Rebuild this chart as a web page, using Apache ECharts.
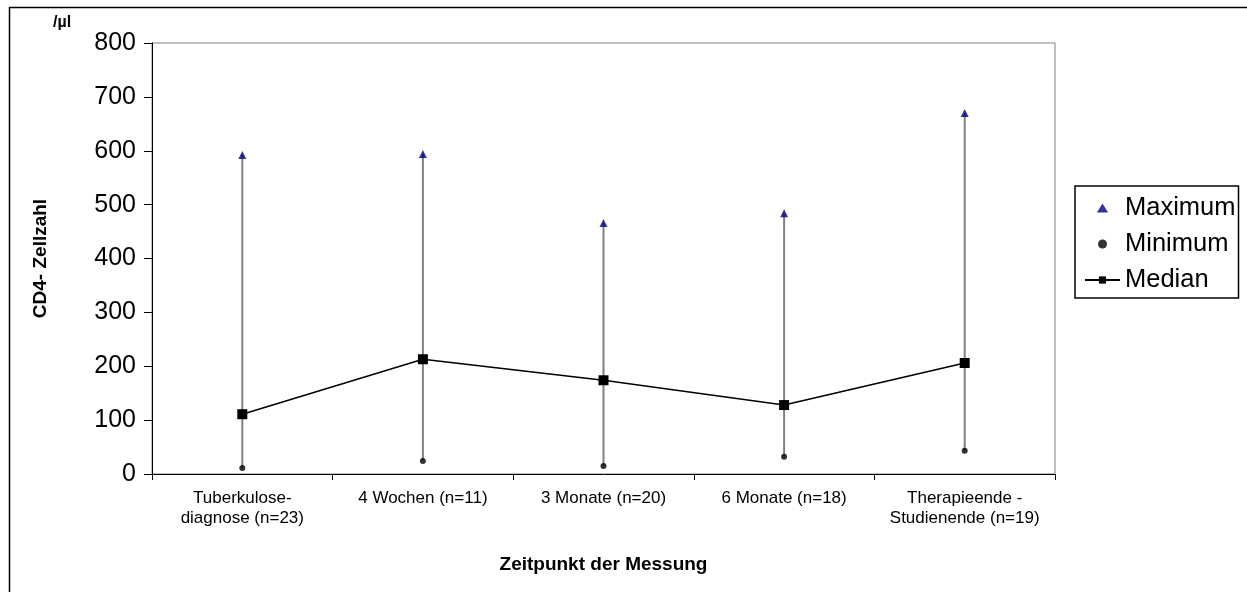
<!DOCTYPE html>
<html>
<head>
<meta charset="utf-8">
<script src="https://cdn.jsdelivr.net/npm/echarts@6/dist/echarts.min.js"></script>
<style>html,body{margin:0;padding:0;background:#fff}#c{width:1247px;height:592px}</style>
</head>
<body>
<div id="c"></div>
<script>
const categories = ['Tuberkulose-\ndiagnose (n=23)', '4 Wochen (n=11)', '3 Monate (n=20)', '6 Monate (n=18)', 'Therapieende -\nStudienende (n=19)'];
const maximum = [592, 594, 466, 484, 670];
const minimum = [11, 24, 15, 32, 43];
const median = [111, 213, 174, 128, 206];
const yTicks = { min: 0, max: 800, interval: 100 };

const FONT = 'Liberation Sans, Arial, sans-serif';
const chart = echarts.init(document.getElementById('c'));
const rangeData = categories.map((c, i) => [i, minimum[i], maximum[i]]);

chart.setOption({
  animation: false,
  backgroundColor: '#fff',
  textStyle: { fontFamily: FONT },
  graphic: [{
    type: 'rect', left: 7, top: 5, shape: { width: 1260, height: 620 },
    style: { fill: 'none', stroke: '#000', lineWidth: 1.5 }, silent: true
  }],
  title: {
    text: '/µl', left: 48, top: 10,
    textStyle: { fontFamily: FONT, fontSize: 16, fontWeight: 'bold', color: '#000' }
  },
  grid: { left: 152, top: 43, right: 192, bottom: 118, show: true, borderColor: '#808080', borderWidth: 1, backgroundColor: 'transparent' },
  legend: {
    orient: 'vertical', left: 1075, top: 186, width: 163,
    borderColor: '#000', borderWidth: 1.5, padding: [9, 3, 5, 9],
    itemWidth: 35, itemHeight: 9, itemGap: 10,
    textStyle: { fontFamily: FONT, fontSize: 25.5, color: '#000' },
    data: [
      { name: 'Maximum', icon: 'path://M5,0L10,8L0,8Z' },
      { name: 'Minimum', icon: 'path://M0,-1A1,1,0,1,1,0,1A1,1,0,1,1,0,-1Z' },
      { name: 'Median' }
    ]
  },
  xAxis: {
    type: 'category', data: categories, boundaryGap: true,
    name: 'Zeitpunkt der Messung', nameLocation: 'middle', nameGap: 81,
    nameTextStyle: { fontFamily: FONT, fontSize: 19, fontWeight: 'bold', color: '#000' },
    axisLine: { lineStyle: { color: '#000', width: 1 } },
    axisTick: { show: true, length: 6, lineStyle: { color: '#000' } },
    axisLabel: { fontFamily: FONT, fontSize: 17, color: '#000', margin: 14, lineHeight: 20, interval: 0 },
    splitLine: { show: false }
  },
  yAxis: {
    type: 'value', min: yTicks.min, max: yTicks.max, interval: yTicks.interval,
    name: 'CD4- Zellzahl', nameLocation: 'middle', nameGap: 102, nameRotate: 90,
    nameTextStyle: { fontFamily: FONT, fontSize: 19, fontWeight: 'bold', color: '#000' },
    axisLine: { show: true, lineStyle: { color: '#000', width: 1 } },
    axisTick: { show: true, length: 8, lineStyle: { color: '#000' } },
    axisLabel: { fontFamily: FONT, fontSize: 25, color: '#000', margin: 16 },
    splitLine: { show: false }
  },
  series: [
    {
      type: 'custom', name: 'range', data: rangeData, z: 1,
      renderItem: function (params, api) {
        const x = api.value(0);
        const p1 = api.coord([x, api.value(1)]);
        const p2 = api.coord([x, api.value(2)]);
        return { type: 'line', shape: { x1: p1[0], y1: p1[1], x2: p2[0], y2: p2[1] }, style: { stroke: '#808080', lineWidth: 2 } };
      },
      encode: { x: 0, y: [1, 2] }
    },
    {
      type: 'scatter', name: 'Maximum', data: maximum, symbol: 'triangle', symbolSize: [8, 8],
      itemStyle: { color: '#000080' }, z: 3
    },
    {
      type: 'scatter', name: 'Minimum', data: minimum, symbol: 'circle', symbolSize: 6,
      itemStyle: { color: '#000' }, z: 3
    },
    {
      type: 'line', name: 'Median', data: median, symbol: 'rect', symbolSize: 10,
      lineStyle: { color: '#000', width: 1.5 }, itemStyle: { color: '#000' }, z: 4
    }
  ]
});
</script>
</body>
</html>
